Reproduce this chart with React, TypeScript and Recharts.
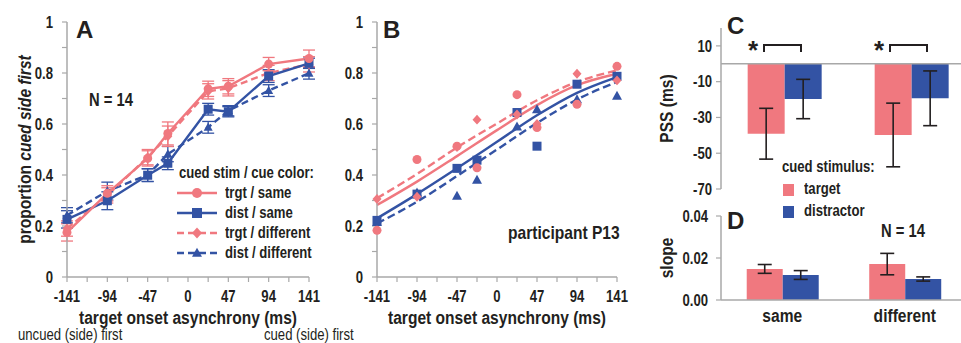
import React from 'react'
import {
  ComposedChart,
  BarChart,
  Bar,
  Line,
  Scatter,
  XAxis,
  YAxis,
  ErrorBar,
  ReferenceLine,
} from 'recharts'

// ---------------------------------------------------------------------------
// Palette / type
// ---------------------------------------------------------------------------

const PINK = '#f0787f'
const BLUE = '#3353a4'
const AXIS = '#a8a8a8'
const INK = '#231f20'
const FONT = '"Liberation Sans", Arial, sans-serif'
// the figure's lettering is a narrow Arial; no narrow face is installed,
// so Liberation Sans is squeezed horizontally instead
const SQUEEZE = 0.82

// ---------------------------------------------------------------------------
// Data
// ---------------------------------------------------------------------------

// target onset asynchronies (ms)
const SOA = [-141, -94, -47, -23.5, 23.5, 47, 94, 141]
const SOA_TICKS = [-141, -117.5, -94, -70.5, -47, -23.5, 0, 23.5, 47, 70.5, 94, 117.5, 141]
const SOA_LABELS = [-141, -94, -47, 0, 47, 94, 141]
const PROP_TICKS = [0, 0.1, 0.2, 0.3, 0.4, 0.5, 0.6, 0.7, 0.8, 0.9, 1]
const PROP_LABELS = [0, 0.2, 0.4, 0.6, 0.8, 1]

// panel A: group means (N = 14) and error bars
const A_TS = [0.175, 0.328, 0.465, 0.563, 0.738, 0.748, 0.835, 0.857]
const A_TS_ERR = [0.034, 0.03, 0.03, 0.045, 0.03, 0.03, 0.026, 0.033]
const A_DS = [0.226, 0.299, 0.399, 0.446, 0.658, 0.648, 0.788, 0.838]
const A_DS_ERR = [0.034, 0.035, 0.025, 0.025, 0.023, 0.02, 0.025, 0.02]
const A_TD = [0.19, 0.32, 0.47, 0.552, 0.728, 0.74, 0.8, 0.834]
const A_TD_ERR = [0.03, 0.03, 0.03, 0.04, 0.03, 0.03, 0.03, 0.03]
const A_DD = [0.242, 0.337, 0.4, 0.482, 0.587, 0.652, 0.731, 0.799]
const A_DD_ERR = [0.03, 0.035, 0.025, 0.03, 0.023, 0.02, 0.023, 0.023]

// panel B: participant P13 raw proportions
const B_TS = [0.183, 0.461, 0.513, 0.428, 0.715, 0.586, 0.677, 0.826]
const B_DS = [0.222, 0.325, 0.426, 0.458, 0.645, 0.513, 0.756, 0.787]
const B_TD = [0.306, 0.315, 0.51, 0.617, 0.637, 0.6, 0.797, 0.771]
const B_DD = [0.215, 0.33, 0.318, 0.38, 0.589, 0.657, 0.696, 0.71]

// panel B: fitted psychometric curves, read at these SOAs
const FIT_X = [-141, -94, -47, 0, 47, 94, 141]
const FIT_TS = [0.282, 0.374, 0.474, 0.576, 0.674, 0.752, 0.797]
const FIT_TD = [0.309, 0.404, 0.508, 0.602, 0.693, 0.765, 0.81]
const FIT_DS = [0.23, 0.325, 0.426, 0.53, 0.634, 0.722, 0.784]
const FIT_DD = [0.21, 0.295, 0.396, 0.5, 0.604, 0.696, 0.765]

// panels C / D
const CONDITIONS = ['same', 'different']
const PSS_TARGET = [-39.1, -39.8]
const PSS_TARGET_ERR = [14.2, 17.8]
const PSS_DIST = [-19.7, -19.3]
const PSS_DIST_ERR = [11, 15.3]
const PSS_TICKS = [10, -10, -30, -50, -70]

const SLOPE_TARGET = [0.0148, 0.0171]
const SLOPE_TARGET_ERR = [0.0021, 0.0051]
const SLOPE_DIST = [0.0119, 0.01]
const SLOPE_DIST_ERR = [0.0021, 0.001]
const SLOPE_TICKS = [0, 0.02, 0.04]

// ---------------------------------------------------------------------------
// Built rows
// ---------------------------------------------------------------------------

const aRows = SOA.map((soa, i) => ({
  soa,
  ts: A_TS[i],
  tsErr: A_TS_ERR[i],
  ds: A_DS[i],
  dsErr: A_DS_ERR[i],
  td: A_TD[i],
  tdErr: A_TD_ERR[i],
  dd: A_DD[i],
  ddErr: A_DD_ERR[i],
}))

const pts = (ys: number[]) => SOA.map((x, i) => ({ x, y: ys[i] }))
const fit = (ys: number[]) => FIT_X.map((x, i) => ({ x, y: ys[i] }))

const pssRows = CONDITIONS.map((cond, i) => ({
  cond,
  target: PSS_TARGET[i],
  targetErr: PSS_TARGET_ERR[i],
  dist: PSS_DIST[i],
  distErr: PSS_DIST_ERR[i],
}))

const slopeRows = CONDITIONS.map((cond, i) => ({
  cond,
  target: SLOPE_TARGET[i],
  targetErr: SLOPE_TARGET_ERR[i],
  dist: SLOPE_DIST[i],
  distErr: SLOPE_DIST_ERR[i],
}))

// ---------------------------------------------------------------------------
// Text helpers
// ---------------------------------------------------------------------------

function SvgText({ x, y, size, anchor = 'start', dy, rotate = false, weight = 700, children }: {
  x: number; y: number; size: number; anchor?: 'start' | 'middle' | 'end'
  dy?: string; rotate?: boolean; weight?: number; children: React.ReactNode
}) {
  const tf = `translate(${x} ${y})${rotate ? ' rotate(-90)' : ''} scale(${SQUEEZE} 1)`
  return (
    <text
      transform={tf}
      textAnchor={anchor}
      dy={dy}
      fontSize={size}
      fontWeight={weight}
      fontFamily={FONT}
      fill={INK}
    >
      {children}
    </text>
  )
}

const xTick = (fmt: (v: any) => string, size = 16) => (props: any) => (
  <SvgText key={`xt-${props.index}`} x={props.x} y={props.y} size={size} anchor="middle" dy="0.71em">
    {fmt(props.payload.value)}
  </SvgText>
)

const yTick = (fmt: (v: any) => string) => (props: any) => (
  <SvgText key={`yt-${props.index}`} x={props.x} y={props.y} size={16} anchor="end" dy="0.355em">
    {fmt(props.payload.value)}
  </SvgText>
)

const axisLine = { stroke: AXIS, strokeWidth: 1.5 }
const tickLine = { stroke: AXIS, strokeWidth: 1.2 }

const soaFmt = (v: number) => (SOA_LABELS.includes(v) ? String(v) : '')
const propFmt = (v: number) => (PROP_LABELS.includes(v) ? String(v) : '')

const xTitle = (props: any) => {
  const vb = props.viewBox
  return (
    <SvgText x={vb.x + vb.width / 2} y={vb.y + 46.5} size={19} anchor="middle">
      target onset asynchrony (ms)
    </SvgText>
  )
}

const yTitle = (content: React.ReactNode, dx: number) => (props: any) => {
  const vb = props.viewBox
  return (
    <SvgText x={vb.x + dx} y={vb.y + vb.height / 2} size={19} anchor="middle" dy="0.355em" rotate>
      {content}
    </SvgText>
  )
}

// ---------------------------------------------------------------------------
// Markers
// ---------------------------------------------------------------------------

type Shape = 'circle' | 'square' | 'diamond' | 'triangle'

function MarkerShape({ cx, cy, shape, color, size }: {
  cx: number; cy: number; shape: Shape; color: string; size: number
}) {
  const s = size / 2
  if (shape === 'circle') return <circle cx={cx} cy={cy} r={s} fill={color} />
  if (shape === 'square')
    return <rect x={cx - s} y={cy - s} width={size} height={size} fill={color} />
  if (shape === 'diamond')
    return (
      <polygon
        points={`${cx},${cy - s * 1.1} ${cx + s},${cy} ${cx},${cy + s * 1.1} ${cx - s},${cy}`}
        fill={color}
      />
    )
  return (
    <polygon
      points={`${cx},${cy - s * 1.05} ${cx + s},${cy + s * 0.75} ${cx - s},${cy + s * 0.75}`}
      fill={color}
    />
  )
}

const marker = (shape: Shape, color: string, size: number) => (props: any) => {
  const { cx, cy, index } = props
  if (cx == null || cy == null) return <g key={`m-${index}`} />
  return (
    <g key={`m-${index}`}>
      <MarkerShape cx={cx} cy={cy} shape={shape} color={color} size={size} />
    </g>
  )
}

// ---------------------------------------------------------------------------
// Panels
// ---------------------------------------------------------------------------

function PanelA() {
  return (
    <ComposedChart width={330} height={343} data={aRows} margin={{ top: 22, right: 21, bottom: 6, left: 0 }}>
      <XAxis
        type="number"
        dataKey="soa"
        domain={[-141, 141]}
        ticks={SOA_TICKS}
        interval={0}
        tick={xTick(soaFmt)}
        axisLine={axisLine}
        tickLine={tickLine}
        tickSize={5}
        tickMargin={9}
        height={60}
        label={{ content: xTitle }}
      />
      <YAxis
        type="number"
        domain={[0, 1]}
        ticks={PROP_TICKS}
        interval={0}
        tick={yTick(propFmt)}
        axisLine={axisLine}
        tickLine={tickLine}
        tickSize={5}
        tickMargin={9}
        width={67}
        label={{
          content: yTitle(
            <>
              proportion <tspan fontStyle="italic">cued side first</tspan>
            </>,
            24,
          ),
        }}
      />
      <Line dataKey="dd" stroke={BLUE} strokeWidth={2.4} strokeDasharray="7 4" dot={marker('triangle', BLUE, 9)} isAnimationActive={false}>
        <ErrorBar dataKey="ddErr" width={6} stroke={BLUE} strokeWidth={1.3} direction="y" />
      </Line>
      <Line dataKey="td" stroke={PINK} strokeWidth={2.4} strokeDasharray="7 4" dot={marker('diamond', PINK, 9)} isAnimationActive={false}>
        <ErrorBar dataKey="tdErr" width={6} stroke={PINK} strokeWidth={1.3} direction="y" />
      </Line>
      <Line dataKey="ds" stroke={BLUE} strokeWidth={2.4} dot={marker('square', BLUE, 9)} isAnimationActive={false}>
        <ErrorBar dataKey="dsErr" width={6} stroke={BLUE} strokeWidth={1.3} direction="y" />
      </Line>
      <Line dataKey="ts" stroke={PINK} strokeWidth={2.4} dot={marker('circle', PINK, 9)} isAnimationActive={false}>
        <ErrorBar dataKey="tsErr" width={6} stroke={PINK} strokeWidth={1.3} direction="y" />
      </Line>
    </ComposedChart>
  )
}

function PanelB() {
  return (
    <ComposedChart width={300} height={343} margin={{ top: 22, right: 13, bottom: 6, left: 0 }}>
      <XAxis
        type="number"
        dataKey="x"
        domain={[-141, 141]}
        ticks={SOA_TICKS}
        interval={0}
        tick={xTick(soaFmt)}
        axisLine={axisLine}
        tickLine={tickLine}
        tickSize={5}
        tickMargin={9}
        height={60}
        allowDuplicatedCategory={false}
        label={{ content: xTitle }}
      />
      <YAxis
        type="number"
        dataKey="y"
        domain={[0, 1]}
        ticks={PROP_TICKS}
        interval={0}
        tick={yTick(propFmt)}
        axisLine={axisLine}
        tickLine={tickLine}
        tickSize={5}
        tickMargin={9}
        width={47}
      />
      <Line data={fit(FIT_DD)} dataKey="y" type="monotone" stroke={BLUE} strokeWidth={2.4} strokeDasharray="8 4" dot={false} isAnimationActive={false} />
      <Line data={fit(FIT_DS)} dataKey="y" type="monotone" stroke={BLUE} strokeWidth={2.4} dot={false} isAnimationActive={false} />
      <Line data={fit(FIT_TD)} dataKey="y" type="monotone" stroke={PINK} strokeWidth={2.4} strokeDasharray="8 4" dot={false} isAnimationActive={false} />
      <Line data={fit(FIT_TS)} dataKey="y" type="monotone" stroke={PINK} strokeWidth={2.4} dot={false} isAnimationActive={false} />
      <Scatter data={pts(B_DD)} dataKey="y" shape={marker('triangle', BLUE, 10)} isAnimationActive={false} />
      <Scatter data={pts(B_DS)} dataKey="y" shape={marker('square', BLUE, 9)} isAnimationActive={false} />
      <Scatter data={pts(B_TD)} dataKey="y" shape={marker('diamond', PINK, 9)} isAnimationActive={false} />
      <Scatter data={pts(B_TS)} dataKey="y" shape={marker('circle', PINK, 9)} isAnimationActive={false} />
    </ComposedChart>
  )
}

function PanelC() {
  return (
    <BarChart
      width={340}
      height={200}
      data={pssRows}
      margin={{ top: 28, right: 5, bottom: 11, left: 0 }}
      barCategoryGap="21%"
      barGap={0}
    >
      <XAxis dataKey="cond" hide />
      <YAxis
        type="number"
        domain={[-70, 20]}
        ticks={PSS_TICKS}
        interval={0}
        tick={yTick((v) => String(v))}
        axisLine={axisLine}
        tickLine={tickLine}
        tickSize={5}
        tickMargin={4}
        width={81}
        label={{ content: yTitle('PSS (ms)', 26) }}
      />
      <ReferenceLine y={0} stroke={AXIS} strokeWidth={1.5} />
      <Bar dataKey="target" fill={PINK} isAnimationActive={false}>
        <ErrorBar dataKey="targetErr" width={7} stroke={INK} strokeWidth={1.6} />
      </Bar>
      <Bar dataKey="dist" fill={BLUE} isAnimationActive={false}>
        <ErrorBar dataKey="distErr" width={7} stroke={INK} strokeWidth={1.6} />
      </Bar>
    </BarChart>
  )
}

function PanelD() {
  return (
    <BarChart
      width={330}
      height={153}
      data={slopeRows}
      margin={{ top: 26, right: 4, bottom: 0, left: 0 }}
      barCategoryGap="21%"
      barGap={0}
    >
      <XAxis
        dataKey="cond"
        tick={xTick((v) => String(v), 19)}
        axisLine={axisLine}
        tickLine={false}
        tickSize={4}
        tickMargin={5}
        height={43}
      />
      <YAxis
        type="number"
        domain={[0, 0.04]}
        ticks={SLOPE_TICKS}
        interval={0}
        tick={yTick((v: number) => v.toFixed(2))}
        axisLine={axisLine}
        tickLine={tickLine}
        tickSize={5}
        tickMargin={8}
        width={81}
        label={{ content: yTitle('slope', 26) }}
      />
      <Bar dataKey="target" fill={PINK} isAnimationActive={false}>
        <ErrorBar dataKey="targetErr" width={7} stroke={INK} strokeWidth={1.6} />
      </Bar>
      <Bar dataKey="dist" fill={BLUE} isAnimationActive={false}>
        <ErrorBar dataKey="distErr" width={7} stroke={INK} strokeWidth={1.6} />
      </Bar>
    </BarChart>
  )
}

// ---------------------------------------------------------------------------
// Overlays (panel letters, legends, notes)
// ---------------------------------------------------------------------------

function Note({ left, top, size, weight = 700, wide = false, children }: {
  left: number; top: number; size: number; weight?: number; wide?: boolean; children: React.ReactNode
}) {
  return (
    <div
      style={{
        position: 'absolute',
        left,
        top,
        fontSize: size,
        lineHeight: `${size}px`,
        fontFamily: FONT,
        fontWeight: weight,
        color: INK,
        whiteSpace: 'nowrap',
        transform: wide ? undefined : `scaleX(${SQUEEZE})`,
        transformOrigin: 'left top',
      }}
    >
      {children}
    </div>
  )
}

const LEGEND_A: { label: string; color: string; shape: Shape; dashed: boolean }[] = [
  { label: 'trgt / same', color: PINK, shape: 'circle', dashed: false },
  { label: 'dist / same', color: BLUE, shape: 'square', dashed: false },
  { label: 'trgt / different', color: PINK, shape: 'diamond', dashed: true },
  { label: 'dist / different', color: BLUE, shape: 'triangle', dashed: true },
]

function LegendA() {
  return (
    <>
      <Note left={179} top={165} size={16}>cued stim / cue color:</Note>
      {LEGEND_A.map((r, i) => (
        <React.Fragment key={r.label}>
          <svg width={40} height={20} style={{ position: 'absolute', left: 177, top: 183 + i * 20 }}>
            <line x1={0} y1={10} x2={40} y2={10} stroke={r.color} strokeWidth={2.4} strokeDasharray={r.dashed ? '7 4' : undefined} />
            <MarkerShape cx={20} cy={10} shape={r.shape} color={r.color} size={10} />
          </svg>
          <Note left={225} top={185 + i * 20} size={16}>{r.label}</Note>
        </React.Fragment>
      ))}
    </>
  )
}

function Brackets() {
  return (
    <svg width={961} height={343} style={{ position: 'absolute', left: 0, top: 0, pointerEvents: 'none' }}>
      {[753, 879].map((sx, i) => (
        <g key={i}>
          <text x={sx} y={59} textAnchor="middle" fontSize={26} fontWeight={700} fontFamily={FONT} fill={INK}>
            *
          </text>
          <path d={`M${sx + 11} 52 V45 H${sx + 48} V52`} fill="none" stroke={INK} strokeWidth={2} />
        </g>
      ))}
    </svg>
  )
}

export default function App() {
  return (
    <div style={{ position: 'relative', width: 961, height: 343, overflow: 'hidden', background: '#fff' }}>
      <style>{`body{margin:0}`}</style>
      <div style={{ position: 'absolute', left: 0, top: 0 }}>
        <PanelA />
      </div>
      <div style={{ position: 'absolute', left: 330, top: 0 }}>
        <PanelB />
      </div>
      <div style={{ position: 'absolute', left: 640, top: 0 }}>
        <PanelC />
      </div>
      <div style={{ position: 'absolute', left: 640, top: 190 }}>
        <PanelD />
      </div>

      <Note left={76} top={18} size={24} wide>A</Note>
      <Note left={383} top={18} size={24} wide>B</Note>
      <Note left={727} top={14} size={24} wide>C</Note>
      <Note left={727} top={209} size={24} wide>D</Note>

      <Note left={89} top={91} size={18}>N = 14</Note>
      <LegendA />
      <Note left={508} top={223} size={19}>participant P13</Note>
      <Note left={18} top={327} size={16} weight={400}>uncued (side) first</Note>
      <Note left={264} top={327} size={16} weight={400}>cued (side) first</Note>

      <Brackets />
      <Note left={782} top={159} size={16}>cued stimulus:</Note>
      <div style={{ position: 'absolute', left: 783, top: 184, width: 11, height: 12, background: PINK }} />
      <Note left={804} top={181} size={16}>target</Note>
      <div style={{ position: 'absolute', left: 783, top: 206, width: 11, height: 12, background: BLUE }} />
      <Note left={804} top={203} size={16}>distractor</Note>
      <Note left={881} top={222} size={18}>N = 14</Note>
    </div>
  )
}
